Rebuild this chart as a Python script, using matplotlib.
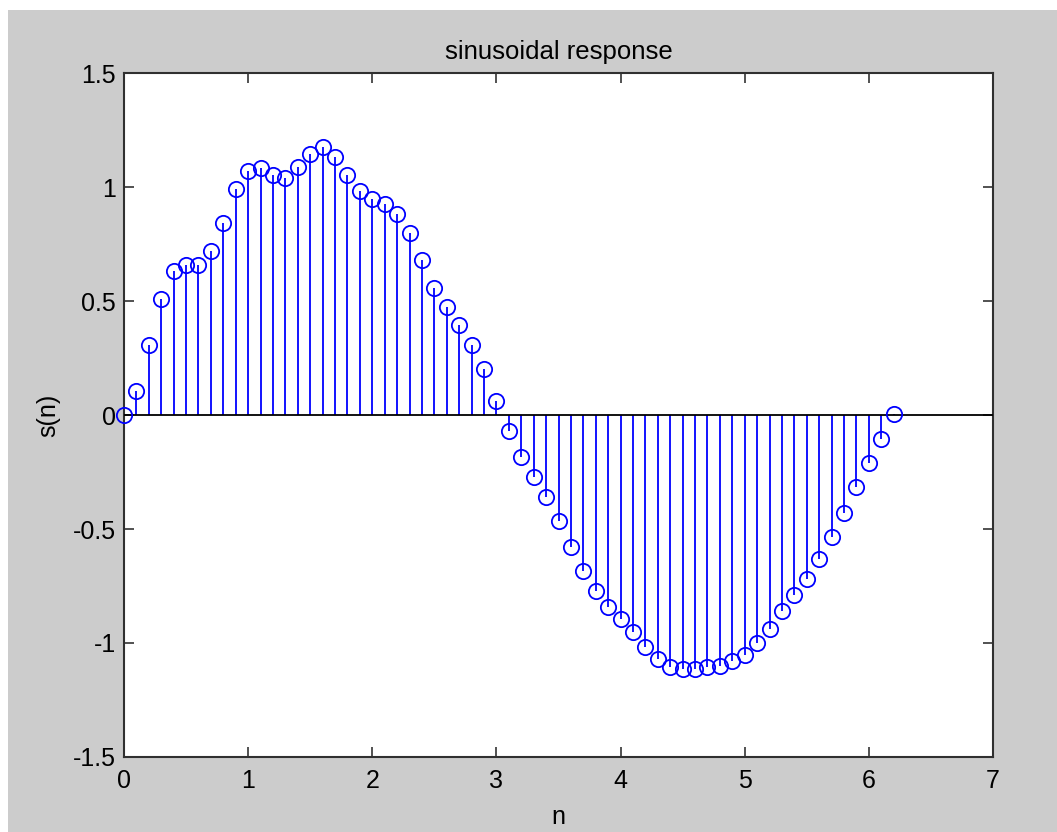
import matplotlib
matplotlib.use("Agg")
import matplotlib.pyplot as plt
from matplotlib.patches import Rectangle

# ---------------------------------------------------------------------------
#  Data
# ---------------------------------------------------------------------------
n = [0.0, 0.1, 0.2, 0.3, 0.4, 0.5, 0.6, 0.7, 0.8, 0.9,
     1.0, 1.1, 1.2, 1.3, 1.4, 1.5, 1.6, 1.7, 1.8, 1.9,
     2.0, 2.1, 2.2, 2.3, 2.4, 2.5, 2.6, 2.7, 2.8, 2.9,
     3.0, 3.1, 3.2, 3.3, 3.4, 3.5, 3.6, 3.7, 3.8, 3.9,
     4.0, 4.1, 4.2, 4.3, 4.4, 4.5, 4.6, 4.7, 4.8, 4.9,
     5.0, 5.1, 5.2, 5.3, 5.4, 5.5, 5.6, 5.7, 5.8, 5.9,
     6.0, 6.1, 6.2]
s = [0.000, 0.105, 0.307, 0.508, 0.631, 0.660, 0.657, 0.718, 0.842, 0.991,
     1.069, 1.085, 1.051, 1.039, 1.088, 1.146, 1.175, 1.131, 1.051, 0.981,
     0.946, 0.927, 0.883, 0.799, 0.682, 0.558, 0.474, 0.394, 0.307, 0.201,
     0.062, -0.068, -0.185, -0.273, -0.361, -0.464, -0.577, -0.686, -0.771, -0.842,
     -0.895, -0.953, -1.018, -1.069, -1.107, -1.114, -1.114, -1.107, -1.099, -1.080,
     -1.054, -1.002, -0.939, -0.858, -0.788, -0.720, -0.632, -0.536, -0.431, -0.317,
     -0.209, -0.107, 0.005]

xticks = [0, 1, 2, 3, 4, 5, 6, 7]
xtick_labels = ["0", "1", "2", "3", "4", "5", "6", "7"]
yticks = [-1.5, -1, -0.5, 0, 0.5, 1, 1.5]
ytick_labels = ["-1.5", "-1", "-0.5", "0", "0.5", "1", "1.5"]

plt.rcParams["font.family"] = ["Liberation Sans", "DejaVu Sans"]

# ---------------------------------------------------------------------------
#  Figure (MATLAB-like grey window)
# ---------------------------------------------------------------------------
fig = plt.figure(figsize=(10.57, 8.32), dpi=100, facecolor="white")
fig.patches.append(Rectangle((8 / 1057, 0), 1, 1 - 10 / 832, transform=fig.transFigure,
                             facecolor="#cccccc", edgecolor="none", zorder=-10))

ax = fig.add_axes([124 / 1057, 1 - 757 / 832, (993 - 124) / 1057, (757 - 73) / 832])
ax.set_facecolor("white")

markerline, stemlines, baseline = ax.stem(n, s, linefmt="b-", markerfmt="bo", basefmt=" ")
stemlines.set_linewidth(1.3)
stemlines.set_color("#0000ff")
markerline.set_markerfacecolor("none")
markerline.set_markeredgecolor("#0000ff")
markerline.set_markersize(11)
markerline.set_markeredgewidth(1.3)
markerline.set_clip_on(False)
markerline.set_zorder(4)
ax.axhline(0, color="black", lw=1.3, zorder=3)

ax.set_xlim(0, 7)
ax.set_ylim(-1.5, 1.5)
ax.set_xticks(xticks)
ax.set_xticklabels(xtick_labels)
ax.set_yticks(yticks)
ax.set_yticklabels(ytick_labels)
ax.tick_params(direction="in", length=7, width=1.1, color="#222222",
               labelsize=18, top=True, right=True)
ax.tick_params(axis="x", pad=9)
ax.tick_params(axis="y", pad=6)
for sp in ax.spines.values():
    sp.set_linewidth(1.5)
    sp.set_color("#303030")

ax.set_title("sinusoidal response", fontsize=18.5, pad=10)
ax.set_xlabel("n", fontsize=18, labelpad=8)
ax.set_ylabel("s(n)", fontsize=18, labelpad=9)

fig.savefig("out.png", dpi=100, facecolor=fig.get_facecolor())
